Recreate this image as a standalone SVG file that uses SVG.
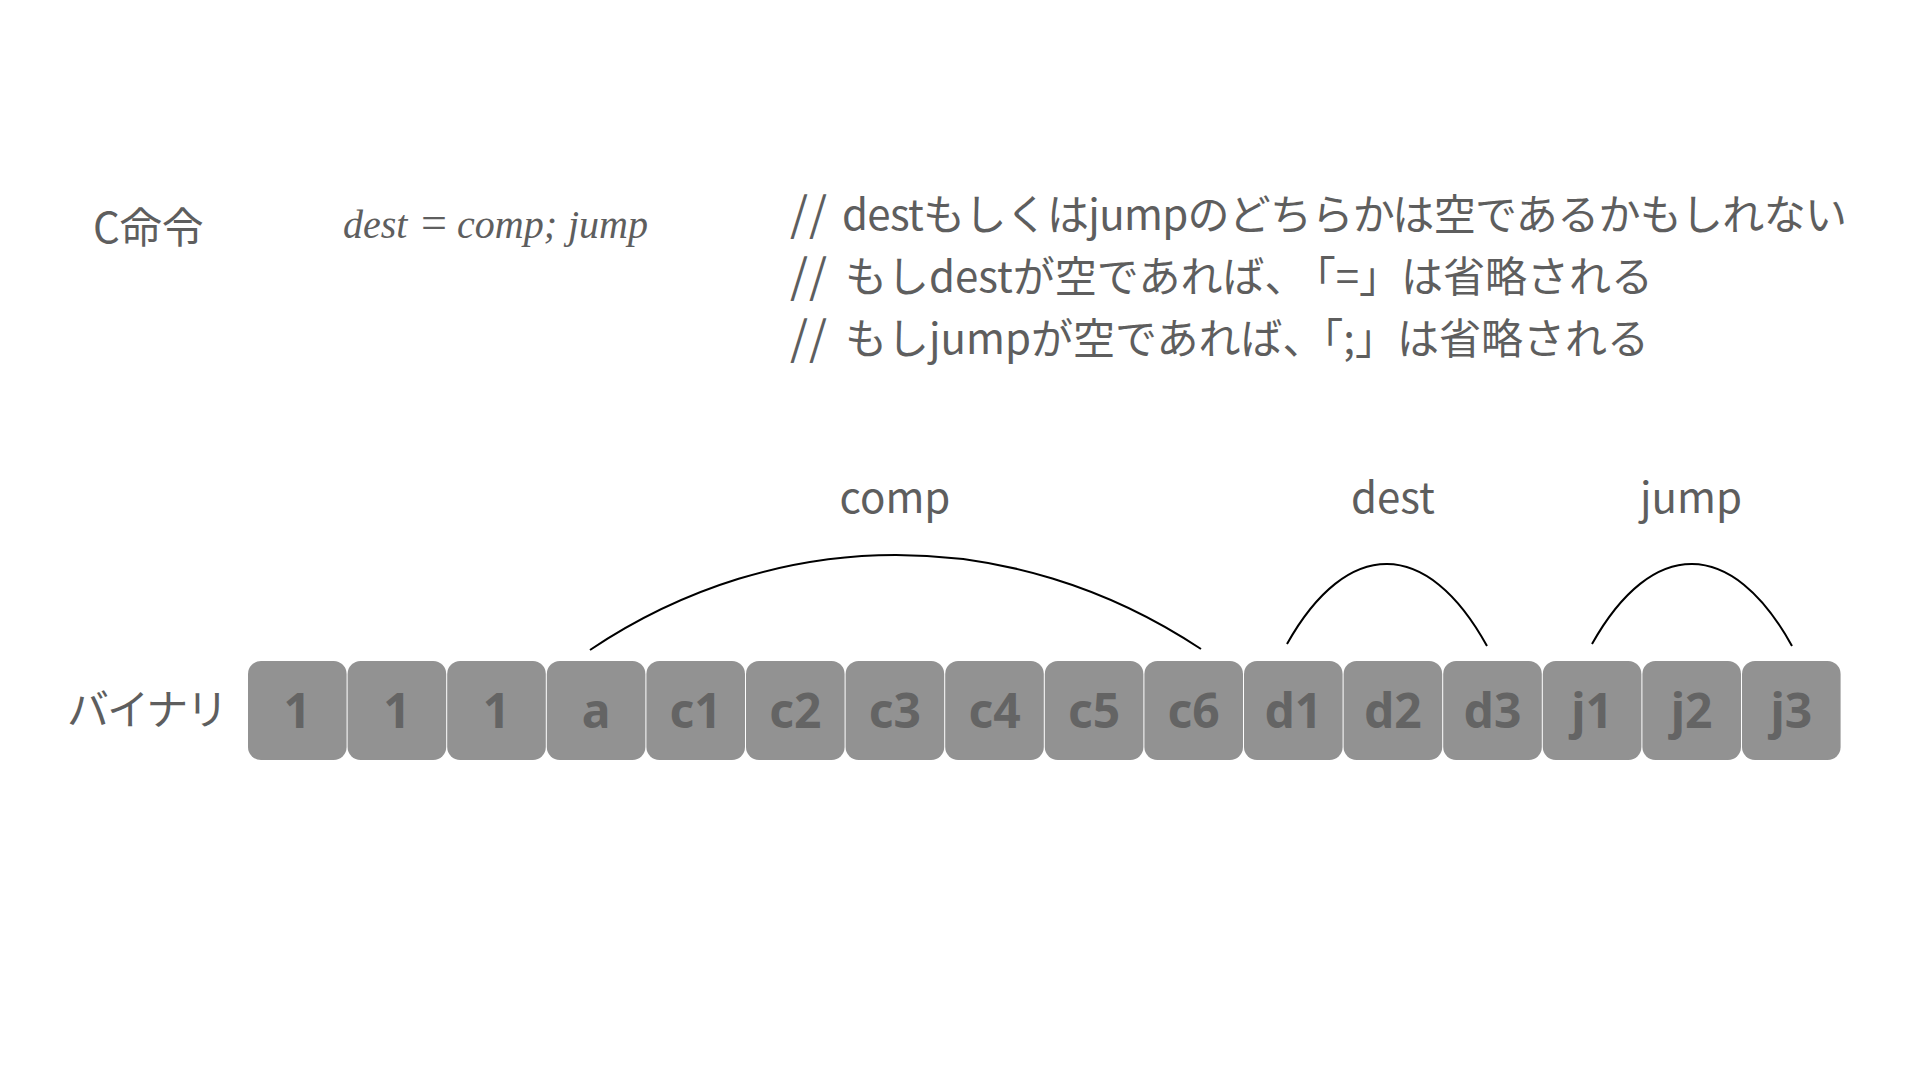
<svg xmlns="http://www.w3.org/2000/svg" width="1920" height="1080" viewBox="0 0 1920 1080">
<defs>
<style>
.jp{font-family:"Noto Sans CJK JP","Noto Sans",sans-serif;font-size:42px;fill:#5e5e5e}
.sl{letter-spacing:1px;font-size:46px}
.math{font-family:"Liberation Serif","DejaVu Serif",serif;font-style:italic;font-size:40px;fill:#5e5e5e}
.box{fill:#929292}
.bt{font-family:"Noto Sans","DejaVu Sans",sans-serif;font-weight:700;font-size:48px;fill:#646464;text-anchor:middle}
.arc{fill:none;stroke:#000;stroke-width:2}
.lbl{text-anchor:middle}
.end{text-anchor:end}
</style>
</defs>
<rect width="1920" height="1080" fill="#fff"/>
<g id="title">
<text class="jp" x="93" y="243">C命令</text>
</g>
<g id="formula">
<text class="math" y="238"><tspan x="343">dest</tspan><tspan x="421" font-style="normal" font-size="46">=</tspan><tspan x="457">comp;</tspan><tspan x="568">jump</tspan></text>
</g>
<g id="comments">
<text class="jp sl" x="790" y="231">//</text>
<text class="jp" x="842" y="230" textLength="1005" lengthAdjust="spacing">destもしくはjumpのどちらかは空であるかもしれない</text>
<text class="jp sl" x="790" y="293">//</text>
<text class="jp" x="845" y="292">もしdestが空であれば、</text>
<text class="jp end" x="1653" y="292">「=」は省略される</text>
<text class="jp sl" x="790" y="355">//</text>
<text class="jp" x="845" y="354">もしjumpが空であれば、</text>
<text class="jp end" x="1649" y="354">「;」は省略される</text>
</g>
<g id="label-binary">
<text class="jp" x="67" y="725" letter-spacing="-2">バイナリ</text>
</g>
<g id="label-comp"><text class="jp lbl" x="895" y="513">comp</text></g>
<g id="label-dest"><text class="jp lbl" x="1393" y="513">dest</text></g>
<g id="label-jump"><text class="jp lbl" x="1691" y="513">jump</text></g>
<g id="connectors">
<path class="arc" d="M590,650 C779,523.5 1012,523.5 1201,649"/>
<path class="arc" d="M1287,644 C1347,537 1427,537 1487,646"/>
<path class="arc" d="M1592,644 C1652,537 1732,537 1792,646"/>
</g>
<g id="bit0"><rect class="box" x="248" y="661" width="98.6" height="99" rx="13"/><text class="bt" x="297.3" y="728">1</text></g>
<g id="bit1"><rect class="box" x="347.6" y="661" width="98.6" height="99" rx="13"/><text class="bt" x="396.9" y="728">1</text></g>
<g id="bit2"><rect class="box" x="447.2" y="661" width="98.6" height="99" rx="13"/><text class="bt" x="496.5" y="728">1</text></g>
<g id="bit-a"><rect class="box" x="546.8" y="661" width="98.6" height="99" rx="13"/><text class="bt" x="596.1" y="728">a</text></g>
<g id="bit-c1"><rect class="box" x="646.4" y="661" width="98.6" height="99" rx="13"/><text class="bt" x="695.7" y="728">c1</text></g>
<g id="bit-c2"><rect class="box" x="746" y="661" width="98.6" height="99" rx="13"/><text class="bt" x="795.3" y="728">c2</text></g>
<g id="bit-c3"><rect class="box" x="845.6" y="661" width="98.6" height="99" rx="13"/><text class="bt" x="894.9" y="728">c3</text></g>
<g id="bit-c4"><rect class="box" x="945.2" y="661" width="98.6" height="99" rx="13"/><text class="bt" x="994.5" y="728">c4</text></g>
<g id="bit-c5"><rect class="box" x="1044.8" y="661" width="98.6" height="99" rx="13"/><text class="bt" x="1094.1" y="728">c5</text></g>
<g id="bit-c6"><rect class="box" x="1144.4" y="661" width="98.6" height="99" rx="13"/><text class="bt" x="1193.7" y="728">c6</text></g>
<g id="bit-d1"><rect class="box" x="1244" y="661" width="98.6" height="99" rx="13"/><text class="bt" x="1293.3" y="728">d1</text></g>
<g id="bit-d2"><rect class="box" x="1343.6" y="661" width="98.6" height="99" rx="13"/><text class="bt" x="1392.9" y="728">d2</text></g>
<g id="bit-d3"><rect class="box" x="1443.2" y="661" width="98.6" height="99" rx="13"/><text class="bt" x="1492.5" y="728">d3</text></g>
<g id="bit-j1"><rect class="box" x="1542.8" y="661" width="98.6" height="99" rx="13"/><text class="bt" x="1592.1" y="728">j1</text></g>
<g id="bit-j2"><rect class="box" x="1642.4" y="661" width="98.6" height="99" rx="13"/><text class="bt" x="1691.7" y="728">j2</text></g>
<g id="bit-j3"><rect class="box" x="1742" y="661" width="98.6" height="99" rx="13"/><text class="bt" x="1791.3" y="728">j3</text></g>
</svg>
